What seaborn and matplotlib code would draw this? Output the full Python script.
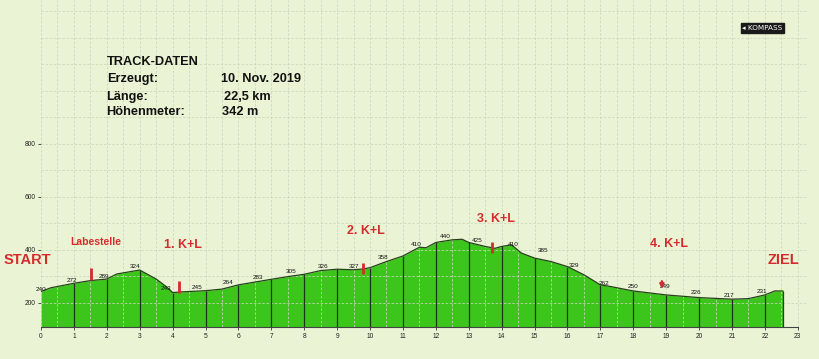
import numpy as np
import pandas as pd
import matplotlib
matplotlib.use("Agg")
import matplotlib.pyplot as plt
import seaborn as sns

# ---- data ----
track_km = [0, 0.3, 1, 1.5, 2, 2.3, 3, 3.5, 3.8, 4, 4.2, 5, 5.5, 6, 7, 7.5, 8, 8.5,
            9, 9.5, 9.8, 10, 10.5, 11, 11.5, 11.7, 12, 12.5, 12.8, 13, 13.5, 13.8,
            14, 14.3, 14.6, 15, 15.5, 16, 16.5, 17, 17.3, 18, 19, 20, 21, 21.5, 22,
            22.3, 22.55]
track_elev = [243, 257, 274, 284, 290, 309, 324, 290, 262, 239, 241, 246, 252, 268,
              289, 299, 308, 322, 327, 325, 328, 333, 356, 377, 410, 408, 428, 438,
              440, 428, 413, 406, 413, 419, 388, 369, 356, 337, 306, 268, 262, 245,
              230, 220, 214, 216, 230, 245, 245]

label_km = [0, 0.95, 1.9, 2.85, 3.8, 4.75, 5.7, 6.6, 7.6, 8.57, 9.5, 10.4, 11.4,
            12.3, 13.25, 14.35, 15.25, 16.2, 17.1, 18.0, 18.95, 19.9, 20.9, 21.9]
label_elev = [240, 272, 289, 324, 243, 245, 264, 283, 305, 326, 327, 358, 410, 440,
              425, 410, 385, 329, 262, 250, 249, 226, 217, 231]

stop_names = ["Labestelle", "1. K+L", "2. K+L", "3. K+L", "4. K+L"]
stop_km = [1.52, 4.2, 9.78, 13.7, 18.87]
stop_top = [332, 284, 350, 430, 282]
stop_bottom = [287, 239, 308, 389, 253]

info_keys = ["Erzeugt:", "Länge:", "Höhenmeter:"]
info_vals = ["10. Nov. 2019", "22,5 km", "342 m"]

x_ticks = list(range(0, 24))
y_ticks = [200, 400, 600, 800]

# ---- styling ----
sns.set_theme(style="white")
plt.rcParams["font.family"] = ["Liberation Sans", "DejaVu Sans"]

BG = "#eaf4d4"
GREEN = "#3cc61c"
RED = "#d42c2c"

W, H = 820, 359
fig = plt.figure(figsize=(W / 100, H / 100), dpi=100, facecolor=BG)
ax = fig.add_axes([41 / W, 32 / H, 767 / W, 327 / H])
ax.set_facecolor(BG)

df = pd.DataFrame({"km": track_km, "elev": track_elev})
ybot = 109
ax.fill_between(df["km"], ybot, df["elev"], color=GREEN, lw=0, zorder=1)
sns.lineplot(data=df, x="km", y="elev", ax=ax, color="#26421a", lw=0.9,
             zorder=3, sort=False)
ax.vlines(df["km"].iloc[-1], ybot, df["elev"].iloc[-1], color="#26421a", lw=0.9, zorder=3)

# dark km lines inside the profile
km_lines = np.arange(1, 23)
ax.vlines(km_lines, ybot, np.interp(km_lines, track_km, track_elev),
          color="#1e3318", lw=0.9, zorder=2.8)

# grid
for gx in np.arange(0, 23.5, 0.5):
    ax.axvline(gx, color="#c9d5bb", lw=0.6, ls=(0, (3, 2)), zorder=2.5, alpha=0.9)
for gy in range(200, 1400, 100):
    ax.axhline(gy, color="#c9d5bb", lw=0.6, ls=(0, (3, 2)), zorder=2.5, alpha=0.9)

ax.set_xlim(0, 23.31)
ax.set_ylim(ybot, 1343)
ax.set_xticks(x_ticks)
ax.set_xticklabels([str(t) for t in x_ticks])
ax.set_yticks(y_ticks)
ax.set_yticklabels([str(t) for t in y_ticks])
ax.tick_params(axis="both", labelsize=4.8, length=2.5, width=0.6, color="#333333",
               pad=1.5, labelcolor="#222222", bottom=True, left=True)
ax.set_xlabel("")
ax.set_ylabel("")
for s in ["top", "right", "left"]:
    ax.spines[s].set_visible(False)
ax.spines["bottom"].set_color("#444444")
ax.spines["bottom"].set_linewidth(0.8)
ax.spines["bottom"].set_bounds(0, 23)
ax.grid(False)

# elevation labels
for k, v in zip(label_km, label_elev):
    ax.annotate(str(v), (k, v), xytext=(0, 0.5), textcoords="offset points",
                ha="center", va="bottom", fontsize=4.6, color="#111111", zorder=5)

# stop markers
for name, k, t, b in zip(stop_names, stop_km, stop_top, stop_bottom):
    if name == "4. K+L":
        ax.annotate("", xy=(k, b), xytext=(k, t),
                    arrowprops=dict(arrowstyle="-|>", color=RED, lw=1.6,
                                    mutation_scale=6, shrinkA=0, shrinkB=0),
                    zorder=6)
    else:
        ax.plot([k, k], [b, t], color=RED, lw=2.0, solid_capstyle="butt", zorder=6)

def ftext(px, py, s, **kw):
    fig.text(px / W, 1 - py / H, s, **kw)

# stop texts
ftext(96, 242, "Labestelle", color=RED, fontsize=7.5, fontweight="bold",
      ha="center", va="center")
ftext(183, 245, "1. K+L", color=RED, fontsize=9, fontweight="bold", ha="center", va="center")
ftext(366, 231, "2. K+L", color=RED, fontsize=9, fontweight="bold", ha="center", va="center")
ftext(496, 219, "3. K+L", color=RED, fontsize=9, fontweight="bold", ha="center", va="center")
ftext(669, 244, "4. K+L", color=RED, fontsize=9, fontweight="bold", ha="center", va="center")
ftext(27, 260, "START", color=RED, fontsize=10.5, fontweight="bold", ha="center", va="center",
      zorder=10)
ftext(784, 260, "ZIEL", color=RED, fontsize=10.5, fontweight="bold", ha="center", va="center")

# track info block
ftext(107, 62, "TRACK-DATEN", color="#111111", fontsize=9.2, fontweight="bold",
      ha="left", va="center")
key_x = [107, 106, 106]
val_x = [221, 224, 222]
row_y = [79, 97, 112]
for kx, vx, ry, key, val in zip(key_x, val_x, row_y, info_keys, info_vals):
    ftext(kx, ry, key, color="#111111", fontsize=9.2, fontweight="bold", ha="left", va="center")
    ftext(vx, ry, val, color="#111111", fontsize=9.2, fontweight="bold", ha="left", va="center")

# KOMPASS badge
ftext(762.5, 28, "◂ KOMPASS", color="white", fontsize=5.2, ha="center", va="center",
      family=["DejaVu Sans"],
      bbox=dict(boxstyle="square,pad=0.25", fc="#1a1a1a", ec="#1a1a1a"))

fig.savefig("out.png", dpi=100, facecolor=BG)
